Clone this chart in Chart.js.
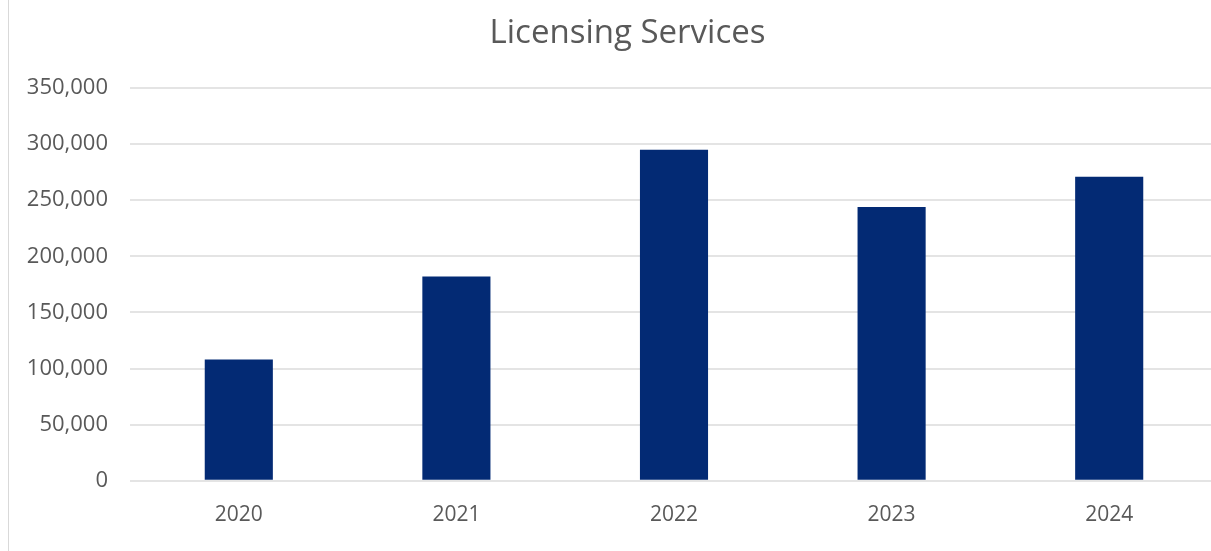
<!DOCTYPE html>
<html>
<head>
<meta charset="utf-8">
<script src="https://cdn.jsdelivr.net/npm/chart.js@4.4.1/dist/chart.umd.min.js"></script>
<style>
  html, body { margin: 0; padding: 0; background: #ffffff; overflow: hidden; }
  #wrap { position: relative; width: 1211px; height: 551px; overflow: hidden; }
  #edge { position: absolute; left: 8px; top: 0; width: 1px; height: 551px; background: #d9d9d9; }
  canvas { position: absolute; left: 0; top: 0; }
</style>
</head>
<body>
<div id="wrap">
  <canvas id="c" width="1219" height="551"></canvas>
  <div id="edge"></div>
</div>
<script>
const titleText = "Licensing Services";
const categories = ["2020", "2021", "2022", "2023", "2024"];
const values = [108000, 182000, 295000, 244000, 271000];
const yMin = 0;
const yMax = 350000;
const yStep = 50000;

const fontFamily = "'Open Sans', 'Noto Sans', sans-serif";
const textGrey = "#595959";
const visibleWidth = 1211;

const titlePlugin = {
  id: "offsetTitle",
  afterDraw(chart) {
    const ctx = chart.ctx;
    ctx.save();
    ctx.fillStyle = textGrey;
    ctx.font = "normal 33px " + fontFamily;
    ctx.textAlign = "center";
    ctx.textBaseline = "middle";
    ctx.fillText(titleText, visibleWidth / 2 + 22, 34);
    ctx.restore();
  }
};

new Chart(document.getElementById("c"), {
  type: "bar",
  data: {
    labels: categories,
    datasets: [{
      label: titleText,
      data: values,
      backgroundColor: "#032a74",
      borderWidth: 0,
      categoryPercentage: 1.0,
      barPercentage: 0.313
    }]
  },
  plugins: [titlePlugin],
  options: {
    responsive: false,
    animation: false,
    devicePixelRatio: 1,
    layout: { padding: { left: 8, right: 1, top: 88, bottom: 1 } },
    plugins: {
      legend: { display: false },
      tooltip: { enabled: false },
      title: { display: false }
    },
    scales: {
      x: {
        grid: { display: false, drawTicks: false },
        border: { display: false },
        ticks: {
          color: textGrey,
          font: { family: fontFamily, size: 21 },
          padding: 22,
          maxRotation: 0
        }
      },
      y: {
        min: yMin,
        max: yMax,
        grid: { color: "#e4e4e4", lineWidth: 2, drawTicks: false },
        border: { display: false },
        ticks: {
          stepSize: yStep,
          color: textGrey,
          font: { family: fontFamily, size: 22 },
          padding: 22,
          callback: v => v.toLocaleString("en-US")
        },
        afterFit: s => { s.width = 122; }
      }
    }
  }
});
</script>
</body>
</html>
